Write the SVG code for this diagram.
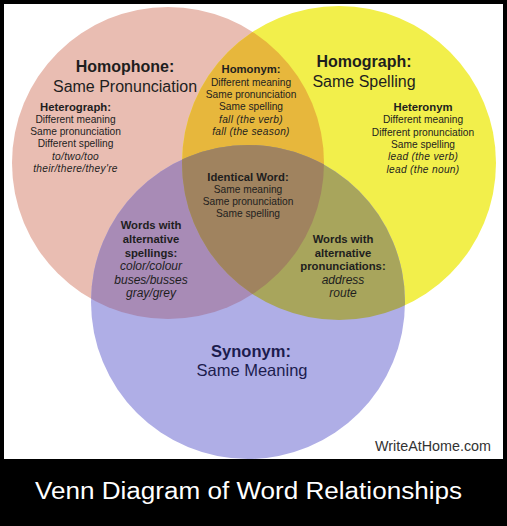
<svg xmlns="http://www.w3.org/2000/svg" width="507" height="526" viewBox="0 0 507 526">
<style>
text{font-family:"Liberation Sans",Arial,sans-serif;text-anchor:middle;fill:#1e1e1e}
.big{font-size:16px}
.bigb{font-size:16px;font-weight:bold}
.h{font-size:11.3px;font-weight:bold}
.b{font-size:10.2px}
.i{font-size:10.2px;font-style:italic;letter-spacing:0.3px}
.ii{font-size:12px;font-style:italic}
.syn{fill:#1c1c4e;font-size:16.5px}
</style>
<defs>
<clipPath id="cA"><circle cx="168" cy="163" r="156"/></clipPath>
<clipPath id="cB"><circle cx="339" cy="163" r="157"/></clipPath>
</defs>
<rect x="0" y="0" width="507" height="526" fill="#000"/>
<rect x="4" y="4" width="499" height="455" fill="#fff"/>
<g id="homophone-circle"><circle cx="168" cy="163" r="156" fill="#e9bdb2"/></g>
<g id="homograph-circle"><circle cx="339" cy="163" r="157" fill="#f2ef4b"/></g>
<g id="synonym-circle"><circle cx="248" cy="302" r="157" fill="#afaee6"/></g>
<g id="homonym-region"><circle cx="339" cy="163" r="157" fill="#e7b73c" clip-path="url(#cA)"/></g>
<g id="spellings-region"><circle cx="248" cy="302" r="157" fill="#a88bb6" clip-path="url(#cA)"/></g>
<g id="pronunciations-region"><circle cx="248" cy="302" r="157" fill="#a8a55c" clip-path="url(#cB)"/></g>
<g id="identical-region" clip-path="url(#cA)"><circle cx="248" cy="302" r="157" fill="#a0835f" clip-path="url(#cB)"/></g>

<g id="homophone">
<text class="bigb" x="125" y="72">Homophone:</text>
<text class="big" x="125" y="92">Same Pronunciation</text>
</g>
<g id="homograph">
<text class="bigb" x="364" y="67">Homograph:</text>
<text class="big" x="364" y="87">Same Spelling</text>
</g>
<g id="heterograph">
<text class="h" x="75.5" y="111">Heterograph:</text>
<text class="b" x="75.5" y="123">Different meaning</text>
<text class="b" x="75.5" y="135">Same pronunciation</text>
<text class="b" x="75.5" y="147">Different spelling</text>
<text class="i" x="75.5" y="159.5">to/two/too</text>
<text class="i" x="75.5" y="172">their/there/they're</text>
</g>
<g id="homonym">
<text class="h" x="251" y="73">Homonym:</text>
<text class="b" x="251" y="86">Different meaning</text>
<text class="b" x="251" y="98">Same pronunciation</text>
<text class="b" x="251" y="110">Same spelling</text>
<text class="i" x="251" y="123">fall (the verb)</text>
<text class="i" x="251" y="135">fall (the season)</text>
</g>
<g id="heteronym">
<text class="h" x="423" y="111">Heteronym</text>
<text class="b" x="423" y="123">Different meaning</text>
<text class="b" x="423" y="136">Different pronunciation</text>
<text class="b" x="423" y="148">Same spelling</text>
<text class="i" x="423" y="160">lead (the verb)</text>
<text class="i" x="423" y="173">lead (the noun)</text>
</g>
<g id="identical">
<text class="h" x="248" y="181">Identical Word:</text>
<text class="b" x="248" y="193">Same meaning</text>
<text class="b" x="248" y="205">Same pronunciation</text>
<text class="b" x="248" y="217">Same spelling</text>
</g>
<g id="alt-spellings">
<text class="h" x="151" y="229">Words with</text>
<text class="h" x="151" y="243">alternative</text>
<text class="h" x="151" y="257">spellings:</text>
<text class="ii" x="151" y="270">color/colour</text>
<text class="ii" x="151" y="283.5">buses/busses</text>
<text class="ii" x="151" y="297">gray/grey</text>
</g>
<g id="alt-pronunciations">
<text class="h" x="343" y="243">Words with</text>
<text class="h" x="343" y="257">alternative</text>
<text class="h" x="343" y="270">pronunciations:</text>
<text class="ii" x="343" y="284">address</text>
<text class="ii" x="343" y="297">route</text>
</g>
<g id="synonym">
<text class="syn" x="251" y="357" style="font-weight:bold">Synonym:</text>
<text class="syn" x="252" y="376">Same Meaning</text>
</g>
<text x="433" y="451" style="font-size:15px;fill:#333" textLength="116" lengthAdjust="spacingAndGlyphs">WriteAtHome.com</text>
<text x="248.5" y="499" style="font-size:23px;fill:#fff" textLength="427" lengthAdjust="spacingAndGlyphs">Venn Diagram of Word Relationships</text>
</svg>
